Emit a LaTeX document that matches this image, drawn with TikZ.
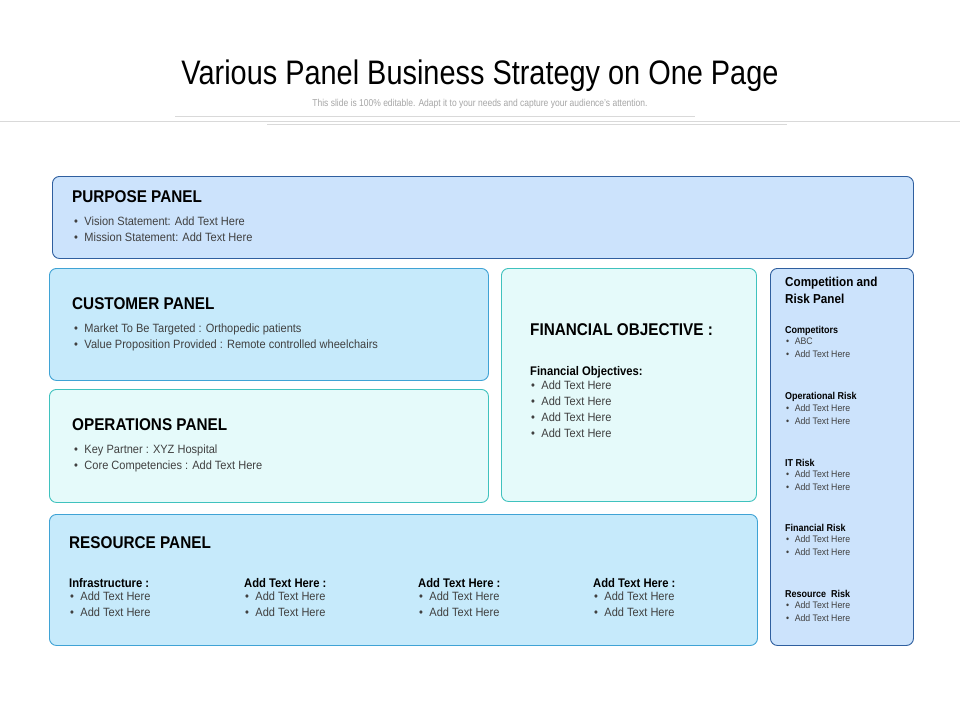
\documentclass[tikz,border=0pt]{standalone}
\usepackage{fontspec}
\setmainfont{Liberation Sans}
\usetikzlibrary{positioning}
\definecolor{navyline}{HTML}{2F5F9F}
\definecolor{skyline}{HTML}{3FA3D5}
\definecolor{tealline}{HTML}{3FC2BE}
\definecolor{bluefill}{HTML}{CCE3FC}
\definecolor{skyfill}{HTML}{C6EAFB}
\definecolor{mintfill}{HTML}{E5FAFA}
\definecolor{bodytext}{HTML}{404040}
\begin{document}
\begin{tikzpicture}[x=1pt, y=-1pt]
	\tikzstyle{panel} = [draw, rounded corners=7pt, line width=0.9pt, anchor=north west, inner sep=0pt];
	\tikzstyle{head} = [anchor=west, inner sep=0pt, font={\fontsize{17}{19}\selectfont\bfseries}, xscale=0.9];
	\tikzstyle{sub} = [anchor=west, inner sep=0pt, font={\fontsize{12.5}{14}\selectfont\bfseries}, xscale=0.9];
	\tikzstyle{items} = [anchor=north west, inner sep=0pt, align=left, text=bodytext, font={\fontsize{12}{16}\selectfont}, xscale=0.92];
	\tikzstyle{small} = [anchor=north west, inner sep=0pt, align=left, text=bodytext, font={\fontsize{9.5}{13}\selectfont}, xscale=0.92];
	\tikzstyle{rule} = [draw=black!15, line width=0.8pt];

	\useasboundingbox (0,0) rectangle (960,720);
	\fill[white] (0,0) rectangle (960,720);

	% header
	\node[font={\fontsize{34}{38}\selectfont}, xscale=0.85] (title) at (480,76) {Various Panel Business Strategy on One Page};
	\node[font={\fontsize{10}{12}\selectfont}, text=black!35, xscale=0.85] (subtitle) at (480,104) {This slide is 100\% editable. Adapt it to your needs and capture your audience's attention.};
	\coordinate (ruleA) at (0,121); \coordinate (ruleB) at (960,121);
	\draw[rule] (ruleA) -- (ruleB);
	\coordinate (ruleC) at (175,116); \coordinate (ruleD) at (695,116);
	\draw[rule] (ruleC) -- (ruleD);
	\coordinate (ruleE) at (267,124); \coordinate (ruleF) at (787,124);
	\draw[rule] (ruleE) -- (ruleF);

	% panels
	\node[panel, draw=navyline, fill=bluefill, minimum width=861, minimum height=82] (purpose) at (52,176) {};
	\node[panel, draw=skyline, fill=skyfill, minimum width=439, minimum height=112] (customer) at (49,268) {};
	\node[panel, draw=tealline, fill=mintfill, minimum width=439, minimum height=113] (operations) at (49,389) {};
	\node[panel, draw=tealline, fill=mintfill, minimum width=255, minimum height=233] (financial) at (501,268) {};
	\node[panel, draw=skyline, fill=skyfill, minimum width=708, minimum height=131] (resource) at (49,514) {};
	\node[panel, draw=navyline, fill=bluefill, minimum width=143, minimum height=377] (risk) at (770,268) {};

	% purpose
	\node[head] (purposeHead) at (72,197) {PURPOSE PANEL};
	\node[items] (purposeItems) at (74,217) {\textbullet\hspace{7pt}Vision Statement: Add Text Here\\ \textbullet\hspace{7pt}Mission Statement: Add Text Here};

	% customer
	\node[head] (customerHead) at (72,304) {CUSTOMER PANEL};
	\node[items] (customerItems) at (74,324) {\textbullet\hspace{7pt}Market To Be Targeted : Orthopedic patients\\ \textbullet\hspace{7pt}Value Proposition Provided : Remote controlled wheelchairs};

	% operations
	\node[head] (operationsHead) at (72,425) {OPERATIONS PANEL};
	\node[items] (operationsItems) at (74,445) {\textbullet\hspace{7pt}Key Partner : XYZ Hospital\\ \textbullet\hspace{7pt}Core Competencies : Add Text Here};

	% financial
	\node[head] (financialHead) at (530,330) {FINANCIAL OBJECTIVE :};
	\node[sub] (financialSub) at (530,372) {Financial Objectives:};
	\node[items] (financialItems) at (531,381) {\textbullet\hspace{7pt}Add Text Here\\ \textbullet\hspace{7pt}Add Text Here\\ \textbullet\hspace{7pt}Add Text Here\\ \textbullet\hspace{7pt}Add Text Here};

	% resource
	\node[head] (resourceHead) at (69,543) {RESOURCE PANEL};
	\foreach \x/\lbl [count=\i] in {69/Infrastructure :, 244/Add Text Here :, 418/Add Text Here :, 593/Add Text Here :} {
		\node[sub] (resSub\i) at (\x,583) {\lbl};
		\node[items] (resItems\i) at (\x+1,592) {\textbullet\hspace{7pt}Add Text Here\\ \textbullet\hspace{7pt}Add Text Here};
	}

	% competition and risk
	\node[anchor=north west, inner sep=0pt, align=left, font={\fontsize{13}{17}\selectfont\bfseries}, xscale=0.9] (riskHead) at (785,277) {Competition and\\Risk Panel};
	\node[anchor=west, inner sep=0pt, font={\fontsize{10}{12}\selectfont\bfseries}, xscale=0.9] (riskSub1) at (785,331) {Competitors};
	\node[small] (riskItems1) at (786,338) {\textbullet\hspace{6pt}ABC\\ \textbullet\hspace{6pt}Add Text Here};
	\foreach \y/\lbl [count=\i from 2] in {397/Operational Risk, 463/IT Risk, 528/Financial Risk, 594/Resource\ \ Risk} {
		\node[anchor=west, inner sep=0pt, font={\fontsize{10}{12}\selectfont\bfseries}, xscale=0.9] (riskSub\i) at (785,\y) {\lbl};
		\node[small] (riskItems\i) at (786,\y+7) {\textbullet\hspace{6pt}Add Text Here\\ \textbullet\hspace{6pt}Add Text Here};
	}
\end{tikzpicture}
\end{document}
